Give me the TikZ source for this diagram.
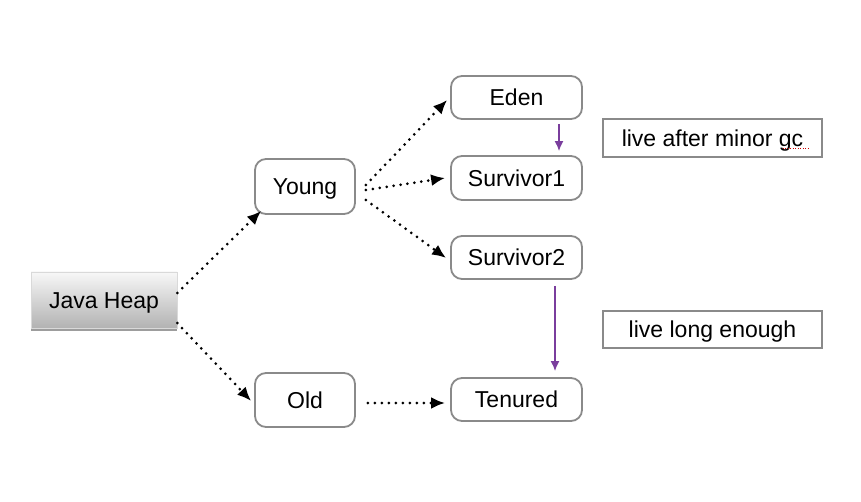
\documentclass[tikz,border=0pt]{standalone}
\usepackage{fontspec}
\setmainfont{Liberation Sans}
\usetikzlibrary{arrows.meta,shadows,calc}
\definecolor{boxgray}{HTML}{8A8A8A}
\definecolor{arrowpurple}{HTML}{7A3E9D}
\tikzset{
  every node/.style={font=\fontsize{23}{28}\selectfont, inner sep=0pt, align=center,
    text height=16.5pt, text depth=0pt},
  roundbox/.style={draw=boxgray, line width=1.8pt, rounded corners=11pt, fill=white},
  notebox/.style={draw=boxgray, line width=1.8pt, fill=white},
  heapbox/.style={top color=black!3, bottom color=black!30, draw=black!15, line width=0.5pt,
    drop shadow={shadow xshift=0pt, shadow yshift=-3pt, opacity=0.55, fill=black!70}},
  dotarrow/.style={line width=3pt, dash pattern=on 0pt off 7pt, line cap=round,
    -{Latex[length=14pt,width=12pt,line cap=butt]}},
  purplearrow/.style={draw=arrowpurple, line width=1.6pt, -{Latex[length=10pt,width=9pt]}},
}
\begin{document}
\begin{tikzpicture}[x=1pt,y=-1pt]
\useasboundingbox (0,0) rectangle (861,502);
% nodes
\node[heapbox, minimum width=146pt, minimum height=56pt] (jh) at (104,300) {Java Heap};
\node[roundbox, minimum width=100pt, minimum height=55pt] (young) at (305,186.5) {Young};
\node[roundbox, minimum width=100pt, minimum height=54pt] (old) at (305,400) {Old};
\node[roundbox, minimum width=131pt, minimum height=43pt] (eden) at (516.5,97.5) {Eden};
\node[roundbox, minimum width=131pt, minimum height=44pt] (s1) at (516.5,178) {Survivor1};
\node[roundbox, minimum width=131pt, minimum height=43pt] (s2) at (516.5,257.5) {Survivor2};
\node[roundbox, minimum width=131pt, minimum height=43pt] (ten) at (516.5,399.5) {Tenured};
\node[notebox, minimum width=219pt, minimum height=38pt] (n1) at (712.5,138) {live after minor gc};
\node[notebox, minimum width=219pt, minimum height=37pt] (n2) at (712.5,329.5) {live long enough};
% spell-check underline under "gc"
\coordinate (u1) at ($(n1.south east)+(-40pt,9pt)$);
\coordinate (u2) at ($(n1.south east)+(-14pt,9pt)$);
\draw[red!80!black, line width=1pt, dash pattern=on 1pt off 1.5pt] (u1) -- (u2);
% dotted connectors
\draw[dotarrow] ([yshift=7pt]jh.east) -- ([xshift=7pt,yshift=4pt]young.south west);
\draw[dotarrow] ([yshift=-23pt]jh.east) -- ([xshift=-3pt,yshift=-1pt]old.west);
\draw[dotarrow] ([xshift=10pt,yshift=1.5pt]young.east) -- ([xshift=-3pt,yshift=-2.5pt]eden.west);
\draw[dotarrow] ([xshift=10pt,yshift=-3.5pt]young.east) -- ([xshift=-5pt]s1.west);
\draw[dotarrow] ([xshift=10pt,yshift=-13.5pt]young.east) -- ([xshift=-4pt,yshift=-0.5pt]s2.west);
\draw[dotarrow] ([xshift=12pt,yshift=-3pt]old.east) -- ([xshift=-5pt,yshift=-3.5pt]ten.west);
% purple connectors
\draw[purplearrow] ([xshift=42.5pt,yshift=-4pt]eden.south) -- ([xshift=42.5pt,yshift=4pt]s1.north);
\draw[purplearrow] ([xshift=38.5pt,yshift=-6pt]s2.south) -- ([xshift=38.5pt,yshift=6pt]ten.north);
\end{tikzpicture}
\end{document}
